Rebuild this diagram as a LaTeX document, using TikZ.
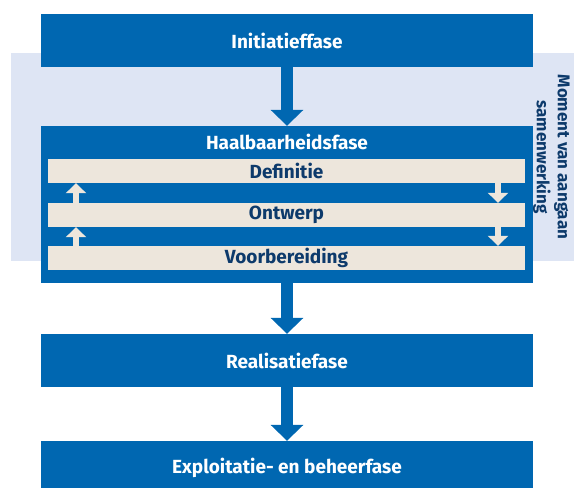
\documentclass[tikz,border=0pt]{standalone}
\usepackage{fontspec}
\setmainfont{Fira Sans}
\usetikzlibrary{arrows.meta}

\definecolor{phaseblue}{HTML}{0067B1}
\definecolor{bandblue}{HTML}{DEE5F4}
\definecolor{stepbeige}{HTML}{EDE6DC}
\definecolor{navy}{HTML}{0D3A6B}

\tikzset{
  labelfont/.style={font=\fontsize{19}{22}\selectfont\bfseries},
  phase/.style={fill=phaseblue, draw=none, text=white, minimum width=492pt,
    minimum height=53pt, inner sep=0pt, labelfont},
  stepbar/.style={fill=stepbeige, draw=none, text=navy, minimum width=477pt,
    minimum height=24pt, inner sep=0pt, labelfont},
  bigarrow/.style={draw=phaseblue, line width=12pt,
    -{Triangle[width=32pt,length=16pt]}},
  smallarrow/.style={draw=stepbeige, line width=6pt,
    -{Triangle[width=20pt,length=10pt]}},
}

\begin{document}
\begin{tikzpicture}[x=1pt,y=-1pt]
  \useasboundingbox (0,0) rectangle (574,488);
  \clip (0,0) rectangle (574,488);

  % background band of the collaboration moment
  \fill[bandblue] (11,53) rectangle (574,260.5);

  % main phases
  \node[phase] (init) at (287,40.5) {Initiatieffase};
  \node[phase, minimum height=157pt] (haal) at (287,204.5) {};
  \node[text=white, labelfont] (haaltitle) at (287,142) {Haalbaarheidsfase};
  \node[phase] (real) at (287,360.5) {Realisatiefase};
  \node[phase] (expl) at (287,467.5) {Exploitatie- en beheerfase};

  % sub-steps of the feasibility phase
  \node[stepbar] (def) at (286.5,171) {Definitie};
  \node[stepbar] (ont) at (286.5,215) {Ontwerp};
  \node[stepbar] (voor) at (286.5,258) {Voorbereiding};

  % columns of the small arrows
  \coordinate (lx) at (76,0);
  \coordinate (rx) at (498,0);

  % flow between the phases
  \draw[bigarrow] (init.south) -- (haal.north);
  \draw[bigarrow] (haal.south) -- (real.north);
  \draw[bigarrow] (real.south) -- (expl.north);

  % iteration between the sub-steps
  \draw[smallarrow] (def.south -| rx) -- (ont.north -| rx);
  \draw[smallarrow] (ont.south -| rx) -- (voor.north -| rx);
  \draw[smallarrow] (ont.north -| lx) -- (def.south -| lx);
  \draw[smallarrow] (voor.north -| lx) -- (ont.south -| lx);

  % side label
  \node[rotate=-90, align=center, text=navy, inner sep=0pt,
    font=\fontsize{17}{21}\selectfont\bfseries] (moment) at (551.5,157)
    {Moment van aangaan\\samenwerking};
\end{tikzpicture}
\end{document}
